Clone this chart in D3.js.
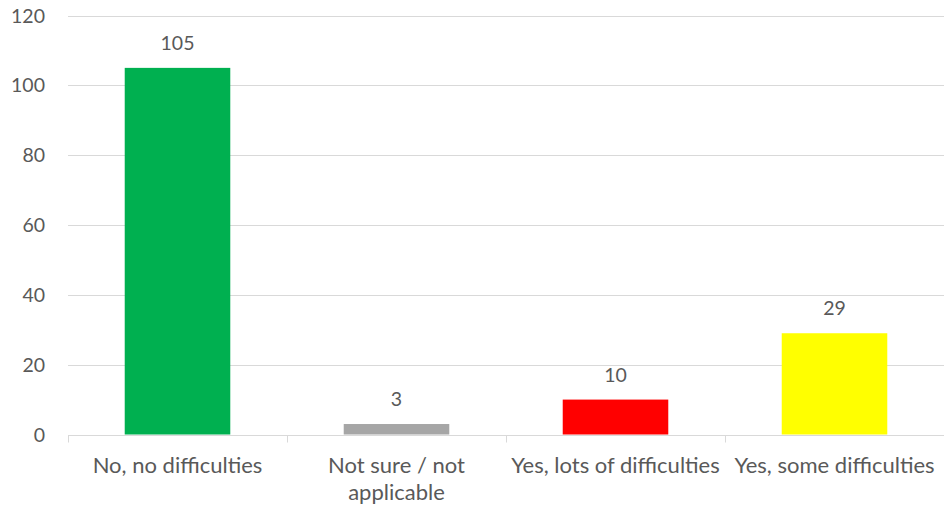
<!DOCTYPE html>
<html>
<head>
<meta charset="utf-8">
<script src="https://cdn.jsdelivr.net/npm/d3@7"></script>
<style>
  html, body { margin: 0; padding: 0; background: #fff; }
  svg text { font-family: Lato, "Open Sans", sans-serif; fill: #595959; }
</style>
</head>
<body>
<svg id="chart" width="944" height="510"></svg>
<script>
const categories = ["No, no difficulties", "Not sure / not applicable", "Yes, lots of difficulties", "Yes, some difficulties"];
const values = [105, 3, 10, 29];
const colors = ["#00b050", "#a6a6a6", "#ff0000", "#ffff00"];
const yTicks = [0, 20, 40, 60, 80, 100, 120];

const svg = d3.select("#chart");
const margin = { left: 68, right: 0, top: 15.5, bottom: 75.5 };
const W = 944, H = 510;

const x = d3.scaleBand()
  .domain(categories)
  .range([margin.left, W - margin.right])
  .paddingInner(0.518)
  .paddingOuter(0.259);

const y = d3.scaleLinear().domain([0, 120]).range([H - margin.bottom, margin.top]);

// horizontal gridlines
svg.append("g")
  .selectAll("line")
  .data(yTicks.filter(d => d > 0))
  .join("line")
  .attr("x1", margin.left).attr("x2", W - margin.right)
  .attr("y1", d => Math.round(y(d)) + 0.5).attr("y2", d => Math.round(y(d)) + 0.5)
  .attr("stroke", "#d9d9d9").attr("stroke-width", 1);

// y tick labels
svg.append("g")
  .selectAll("text")
  .data(yTicks)
  .join("text")
  .attr("x", 45)
  .attr("y", d => y(d))
  .attr("dy", "0.36em")
  .attr("text-anchor", "end")
  .style("font-size", "19.5px")
  .text(d => d);

// bars
svg.append("g")
  .selectAll("rect")
  .data(values)
  .join("rect")
  .attr("x", (d, i) => x(categories[i]))
  .attr("width", x.bandwidth())
  .attr("y", d => y(d))
  .attr("height", d => y(0) - y(d))
  .attr("fill", (d, i) => colors[i]);

// value labels
svg.append("g")
  .selectAll("text")
  .data(values)
  .join("text")
  .attr("x", (d, i) => x(categories[i]) + x.bandwidth() / 2)
  .attr("y", d => y(d) - 18)
  .attr("text-anchor", "middle")
  .style("font-size", "19.5px")
  .text(d => d);

// category axis
const step = x.step();
const boundaries = d3.range(categories.length + 1).map(i => margin.left + i * step);
const axisY = Math.round(y(0)) + 0.5;
const axis = svg.append("g");
axis.append("line")
  .attr("x1", margin.left).attr("x2", W - margin.right)
  .attr("y1", axisY).attr("y2", axisY)
  .attr("stroke", "#d9d9d9");
axis.selectAll("line.tick")
  .data(boundaries.slice(0, categories.length))
  .join("line")
  .attr("class", "tick")
  .attr("x1", d => Math.round(d) + 0.5).attr("x2", d => Math.round(d) + 0.5)
  .attr("y1", axisY).attr("y2", axisY + 7)
  .attr("stroke", "#d9d9d9");

// category labels, wrapped to the band width
const labels = axis.selectAll("text.cat")
  .data(categories)
  .join("text")
  .attr("class", "cat")
  .attr("text-anchor", "middle")
  .style("font-size", "22px")
  .attr("x", d => x(d) + x.bandwidth() / 2)
  .attr("y", 473);

labels.each(function(d) {
  const t = d3.select(this);
  const cx = x(d) + x.bandwidth() / 2;
  const words = d.split(" ");
  let line = [];
  let tspan = t.append("tspan").attr("x", cx).attr("dy", 0);
  for (const w of words) {
    line.push(w);
    tspan.text(line.join(" "));
    if (tspan.node().getComputedTextLength() > step - 2 && line.length > 1) {
      line.pop();
      tspan.text(line.join(" "));
      line = [w];
      tspan = t.append("tspan").attr("x", cx).attr("dy", 27).text(w);
    }
  }
});
</script>
</body>
</html>
